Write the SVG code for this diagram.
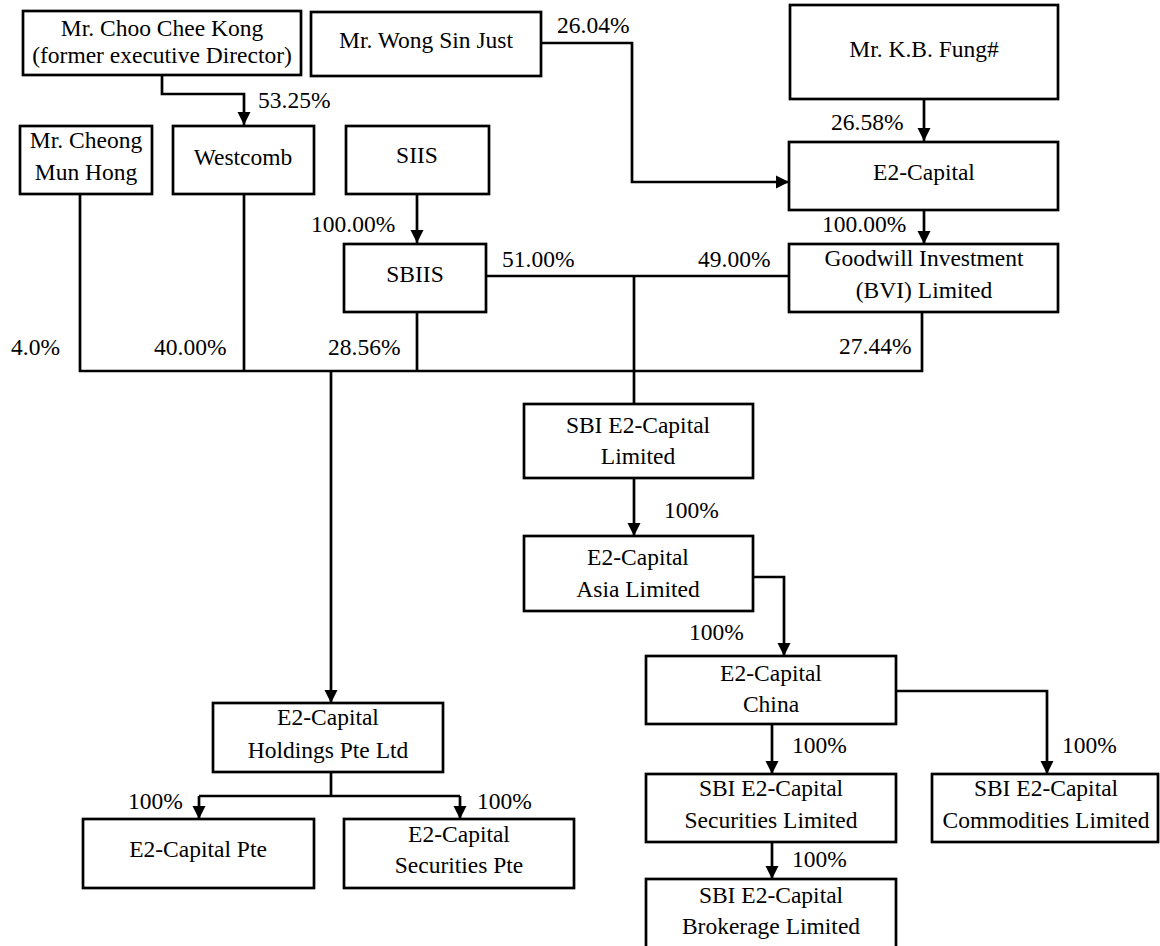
<svg xmlns="http://www.w3.org/2000/svg" width="1160" height="946" viewBox="0 0 1160 946" font-family="'Liberation Serif', 'Times New Roman', serif">
<defs>
<style>
rect.n{fill:#fff;stroke:#000;stroke-width:2.7}
text{font-family:'Liberation Serif','Times New Roman',serif;font-size:23.5px;fill:#000}
.c text{text-anchor:middle}
.e path{fill:none;stroke:#000;stroke-width:2.7}
text.p{text-anchor:start}
</style>
<marker id="ah" markerUnits="userSpaceOnUse" markerWidth="14" markerHeight="14" refX="13" refY="7" orient="auto">
<path d="M0,0.5 L13,7 L0,13.5 z" fill="#000"/>
</marker>
</defs>
<rect width="1160" height="946" fill="#fff"/>

<g id="edges" class="e">
<path d="M162,75 V94 H244 V125" marker-end="url(#ah)"/>
<path d="M541,43 H632 V182 H789" marker-end="url(#ah)"/>
<path d="M924,99 V141" marker-end="url(#ah)"/>
<path d="M417,194 V243" marker-end="url(#ah)"/>
<path d="M924,210 V244" marker-end="url(#ah)"/>
<path d="M486,276 H790"/>
<path d="M634,276 V404"/>
<path d="M80,194 V371 H922 V312"/>
<path d="M244,194 V371"/>
<path d="M417,312 V371"/>
<path d="M331,371 V703" marker-end="url(#ah)"/>
<path d="M634,478 V536" marker-end="url(#ah)"/>
<path d="M753,577 H784 V656" marker-end="url(#ah)"/>
<path d="M772,724 V774" marker-end="url(#ah)"/>
<path d="M896,691 H1047 V774" marker-end="url(#ah)"/>
<path d="M772,842 V879" marker-end="url(#ah)"/>
<path d="M331,772 V796"/>
<path d="M199,796 H460"/>
<path d="M199,796 V819" marker-end="url(#ah)"/>
<path d="M460,796 V819" marker-end="url(#ah)"/>
</g>

<g id="labels">
<text class="p" x="258" y="108">53.25%</text>
<text class="p" x="557" y="33">26.04%</text>
<text class="p" x="831" y="130">26.58%</text>
<text class="p" x="311" y="232">100.00%</text>
<text class="p" x="822" y="232">100.00%</text>
<text class="p" x="502" y="267">51.00%</text>
<text class="p" x="698" y="267">49.00%</text>
<text class="p" x="11" y="355">4.0%</text>
<text class="p" x="154" y="355">40.00%</text>
<text class="p" x="328" y="355">28.56%</text>
<text class="p" x="839" y="354">27.44%</text>
<text class="p" x="664" y="518">100%</text>
<text class="p" x="689" y="640">100%</text>
<text class="p" x="128" y="809">100%</text>
<text class="p" x="477" y="809">100%</text>
<text class="p" x="792" y="753">100%</text>
<text class="p" x="1062" y="753">100%</text>
<text class="p" x="792" y="867">100%</text>
</g>

<g id="choo" class="c"><rect class="n" x="23" y="11" width="278" height="64"/><text x="162" y="36">Mr. Choo Chee Kong</text><text x="162" y="63">(former executive Director)</text></g>
<g id="wong" class="c"><rect class="n" x="311" y="12" width="230" height="64"/><text x="426" y="48">Mr. Wong Sin Just</text></g>
<g id="fung" class="c"><rect class="n" x="790" y="5" width="268" height="94"/><text x="924" y="57">Mr. K.B. Fung#</text></g>
<g id="cheong" class="c"><rect class="n" x="20" y="126" width="132" height="68"/><text x="86" y="148">Mr. Cheong</text><text x="86" y="180">Mun Hong</text></g>
<g id="westcomb" class="c"><rect class="n" x="173" y="126" width="141" height="68"/><text x="243" y="165">Westcomb</text></g>
<g id="siis" class="c"><rect class="n" x="346" y="126" width="143" height="68"/><text x="417" y="163">SIIS</text></g>
<g id="e2capital" class="c"><rect class="n" x="789" y="142" width="269" height="68"/><text x="924" y="180">E2-Capital</text></g>
<g id="sbiis" class="c"><rect class="n" x="344" y="244" width="142" height="68"/><text x="415" y="282">SBIIS</text></g>
<g id="goodwill" class="c"><rect class="n" x="789" y="244" width="269" height="68"/><text x="924" y="266">Goodwill Investment</text><text x="924" y="298">(BVI) Limited</text></g>
<g id="sbie2" class="c"><rect class="n" x="524" y="404" width="229" height="74"/><text x="638" y="433">SBI E2-Capital</text><text x="638" y="464">Limited</text></g>
<g id="asia" class="c"><rect class="n" x="524" y="536" width="229" height="75"/><text x="638" y="565">E2-Capital</text><text x="638" y="597">Asia Limited</text></g>
<g id="holdings" class="c"><rect class="n" x="213" y="703" width="230" height="69"/><text x="328" y="725">E2-Capital</text><text x="328" y="758">Holdings Pte Ltd</text></g>
<g id="e2pte" class="c"><rect class="n" x="83" y="819" width="231" height="69"/><text x="198" y="857">E2-Capital Pte</text></g>
<g id="secpte" class="c"><rect class="n" x="344" y="819" width="230" height="69"/><text x="459" y="842">E2-Capital</text><text x="459" y="873">Securities Pte</text></g>
<g id="china" class="c"><rect class="n" x="646" y="656" width="250" height="68"/><text x="771" y="681">E2-Capital</text><text x="771" y="712">China</text></g>
<g id="securities" class="c"><rect class="n" x="646" y="774" width="250" height="68"/><text x="771" y="796">SBI E2-Capital</text><text x="771" y="828">Securities Limited</text></g>
<g id="commodities" class="c"><rect class="n" x="932" y="774" width="226" height="68"/><text x="1046" y="796">SBI E2-Capital</text><text x="1046" y="828">Commodities Limited</text></g>
<g id="brokerage" class="c"><rect class="n" x="646" y="879" width="250" height="80"/><text x="771" y="903">SBI E2-Capital</text><text x="771" y="934">Brokerage Limited</text></g>
</svg>
